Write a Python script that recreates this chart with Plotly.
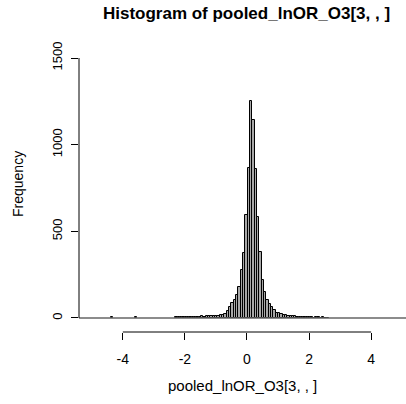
import plotly.graph_objects as go

# ---- data ----
bin_width = 0.075
peak_left_edge = 0.02           # left edge of the tallest bin
central_first_index = -31       # index (relative to peak bin) of first central bin
central_counts = [
    3, 4, 4, 5, 5, 5, 6, 6, 7, 7, 8, 10, 8, 9, 11, 10, 14, 12, 14, 16, 18, 23,
    42, 65, 85, 104, 133, 181, 277, 373, 594, 867,
    1252,
    1142, 860, 585, 383, 219, 152, 104, 81, 65, 46, 31, 27, 23, 19, 16, 13, 11,
    10, 9, 8, 7, 6, 6, 5, 5, 4, 0, 3, 3, 0, 3, 2, 2,
]
isolated_left_edges = [-4.39, -3.62]
isolated_counts = [5, 3]
bins_range = [-5.41, 5.2]       # extent of all breaks (zero bins drawn as baseline)

x_ticks = [-4, -2, 0, 2, 4]
y_ticks = [0, 500, 1000, 1500]

title_text = "Histogram of pooled_lnOR_O3[3, , ]"
x_title = "pooled_lnOR_O3[3, , ]"
y_title = "Frequency"

# ---- build bars ----
lefts = [peak_left_edge + bin_width * (central_first_index + i) for i in range(len(central_counts))]
lefts += isolated_left_edges
counts = central_counts + isolated_counts
centers = [l + bin_width / 2 for l in lefts]

FONT = "Liberation Sans, Arial, sans-serif"
W, H = 406, 404
ml, mr, mt, mb = 79, 0, 48, 72

fig = go.Figure()
fig.add_trace(go.Scatter(
    x=bins_range, y=[0, 0], mode="lines",
    line=dict(color="#666666", width=1.3), hoverinfo="skip", showlegend=False,
))
fig.add_trace(go.Bar(
    x=centers, y=counts, width=bin_width,
    marker=dict(color="#a8a8a8", line=dict(color="black", width=1)),
    showlegend=False,
))

# axis lines spanning first..last tick like R's axis()
fig.add_shape(type="line", xref="x", yref="paper",
              x0=min(x_ticks), x1=max(x_ticks), y0=0, y1=0,
              line=dict(color="black", width=1))
fig.add_shape(type="line", xref="paper", yref="y",
              x0=0, x1=0, y0=min(y_ticks), y1=max(y_ticks),
              line=dict(color="black", width=1))

fig.update_layout(
    width=W, height=H,
    margin=dict(l=ml, r=mr, t=mt, b=mb),
    paper_bgcolor="white", plot_bgcolor="white",
    bargap=0,
    font=dict(family=FONT, size=13, color="black"),
    title=dict(text="<b>" + title_text + "</b>", xref="container", yref="container",
               x=246.5 / W, y=1 - 13 / H, xanchor="center", yanchor="middle",
               font=dict(size=17, family=FONT, color="black")),
    xaxis=dict(range=[-5.412, 5.123], tickvals=x_ticks, ticktext=[str(t) for t in x_ticks],
               ticks="outside", ticklen=7, tickcolor="black", showgrid=False,
               zeroline=False, showline=False, ticklabelstandoff=7,
               tickfont=dict(size=14)),
    yaxis=dict(range=[-80.8, 1557.7], tickvals=y_ticks, ticktext=[str(t) for t in y_ticks],
               ticks="outside", ticklen=7, tickcolor="black", showgrid=False,
               zeroline=False, showline=False, tickangle=-90, ticklabelstandoff=4,
               tickfont=dict(size=13)),
    annotations=[
        dict(text=x_title, xref="paper", yref="paper", x=0.5, y=-(385 - (H - mb)) / (H - mt - mb),
             xanchor="center", yanchor="middle", showarrow=False, font=dict(size=15)),
        dict(text=y_title, xref="paper", yref="paper", x=-(ml - 18) / (W - ml - mr),
             y=(H - mb - 184) / (H - mt - mb), xanchor="center", yanchor="middle",
             textangle=-90, showarrow=False, font=dict(size=14)),
    ],
)

fig.write_html("out.html")
